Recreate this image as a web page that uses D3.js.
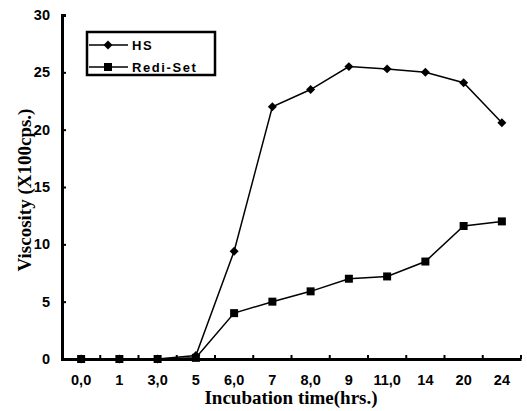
<!DOCTYPE html>
<html><head><meta charset="utf-8">
<script src="https://cdn.jsdelivr.net/npm/d3@7"></script>
<style>body{margin:0;background:#fff}</style>
</head><body>
<svg id="c" width="527" height="411"></svg>
<script>
const categories = ["0,0","1","3,0","5","6,0","7","8,0","9","11,0","14","20","24"];
const hsValues = [0,0,0,0.3,9.4,22.0,23.5,25.5,25.3,25.0,24.1,20.6];
const rediValues = [0,0,0,0.1,4.0,5.0,5.9,7.0,7.2,8.5,11.6,12.0];
const yTicks = [0,5,10,15,20,25,30];
const seriesNames = ["HS","Redi-Set"];

(function(){
const svg = d3.select("#c");
const mLeft = 62, mRight = 521, mTop = 15, mBottom = 359;
const x = d3.scaleBand().domain(categories).range([mLeft, mRight]);
const y = d3.scaleLinear().domain([0,30]).range([mBottom, mTop]);
const cx = d => x(d) + x.bandwidth()/2;

// axes
const yAxis = svg.append("g").attr("transform",`translate(${mLeft},0)`)
  .call(d3.axisLeft(y).tickValues(yTicks).tickSize(-4).tickPadding(12));
yAxis.select(".domain").attr("stroke-width",3);
yAxis.selectAll("text").attr("font-family","Arial, 'Liberation Sans', sans-serif")
  .attr("font-weight","bold").attr("font-size",14.5).attr("fill","#000");
yAxis.selectAll("line").attr("stroke-width",2);

const xAxis = svg.append("g").attr("transform",`translate(0,${mBottom})`)
  .call(d3.axisBottom(x).tickSize(0).tickPadding(16));
xAxis.select(".domain").attr("stroke-width",3);
xAxis.selectAll("text").attr("font-family","Arial, 'Liberation Sans', sans-serif")
  .attr("font-weight","bold").attr("font-size",14.5).attr("fill","#000");
// x ticks at band boundaries, pointing inward
svg.append("g").selectAll("line").data(categories)
  .join("line")
  .attr("x1",(d,i)=> mLeft + x.step()*(i+1)).attr("x2",(d,i)=> mLeft + x.step()*(i+1))
  .attr("y1",mBottom).attr("y2",mBottom-4).attr("stroke","#000").attr("stroke-width",2);

// titles
svg.append("text").attr("transform",`translate(31,190) rotate(-90)`)
  .attr("text-anchor","middle").attr("font-family","'Liberation Serif','Times New Roman',serif")
  .attr("font-weight","bold").attr("font-size",19).text("Viscosity (X100cps.)");
svg.append("text").attr("x",291).attr("y",404)
  .attr("text-anchor","middle").attr("font-family","'Liberation Serif','Times New Roman',serif")
  .attr("font-weight","bold").attr("font-size",19).text("Incubation time(hrs.)");

// lines
const line = d3.line().x((d,i)=>cx(categories[i])).y(d=>y(d));
svg.append("path").datum(hsValues).attr("d",line).attr("fill","none").attr("stroke","#000").attr("stroke-width",1.5);
svg.append("path").datum(rediValues).attr("d",line).attr("fill","none").attr("stroke","#000").attr("stroke-width",1.5);

const diamond = d3.symbol().type(d3.symbolSquare).size(40);
svg.append("g").selectAll("path").data(hsValues).join("path")
  .attr("d",diamond)
  .attr("transform",(d,i)=>`translate(${cx(categories[i])},${y(d)}) rotate(45)`)
  .attr("fill","#000");
const square = d3.symbol().type(d3.symbolSquare).size(64);
svg.append("g").selectAll("path").data(rediValues).join("path")
  .attr("d",square)
  .attr("transform",(d,i)=>`translate(${cx(categories[i])},${y(d)})`)
  .attr("fill","#000");

// legend
const lg = svg.append("g");
lg.append("rect").attr("x",87).attr("y",32).attr("width",128).attr("height",43)
  .attr("fill","#fff").attr("stroke","#000").attr("stroke-width",2.5);
[0,1].forEach(i=>{
  const yy = 45 + i*22;
  lg.append("line").attr("x1",89).attr("x2",128).attr("y1",yy).attr("y2",yy).attr("stroke","#000").attr("stroke-width",1.5);
  lg.append("path").attr("d", i===0 ? diamond() : square())
    .attr("transform", i===0 ? `translate(108,${yy}) rotate(45)` : `translate(108,${yy})`).attr("fill","#000");
  lg.append("text").attr("x",132).attr("y",yy+5).attr("font-family","Arial, 'Liberation Sans', sans-serif")
    .attr("font-weight","bold").attr("font-size",13).attr("letter-spacing",1.6).text(seriesNames[i]);
});
})();
</script>
</body></html>
